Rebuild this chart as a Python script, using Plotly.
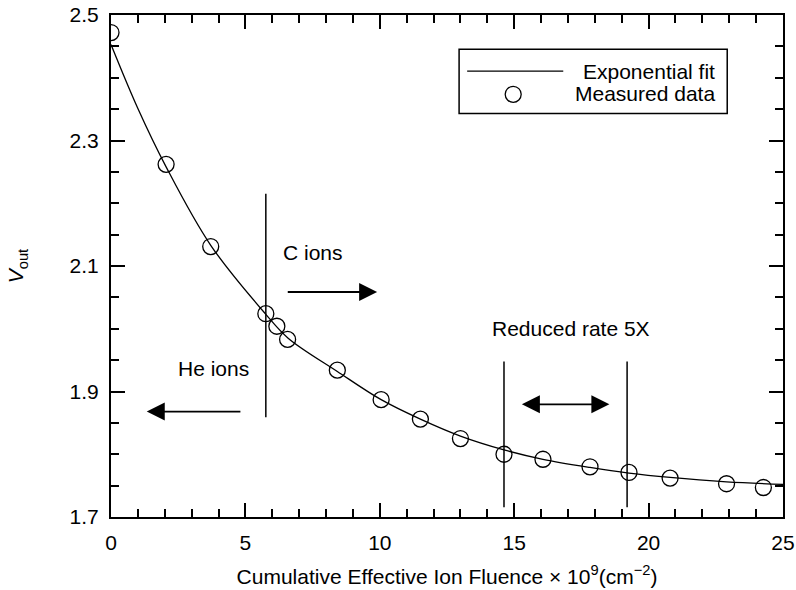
import plotly.graph_objects as go

# Measured output voltage vs cumulative effective ion fluence (x 1e9 cm^-2)
fluence = [0, 2.05, 3.71, 5.76, 6.17, 6.57, 8.42, 10.05, 11.51, 13.0,
           14.62, 16.07, 17.82, 19.27, 20.8, 22.9, 24.27]
vout = [2.472, 2.262, 2.131, 2.024, 2.004, 1.983, 1.934, 1.887, 1.856, 1.825,
        1.800, 1.792, 1.780, 1.771, 1.762, 1.753, 1.747]

# Exponential fit curve, sampled along the fluence axis
fit_x = [0, 1.0, 2.05, 3.71, 5.76, 6.59, 8.42, 10.05, 11.51, 13.0,
         14.62, 16.07, 17.82, 19.27, 20.8, 22.9, 25]
fit_y = [2.453, 2.351, 2.258, 2.133, 2.023, 1.985, 1.932, 1.887, 1.856, 1.829,
         1.807, 1.792, 1.779, 1.770, 1.763, 1.756, 1.752]

series_names = ["Exponential fit", "Measured data"]

# Irradiation phase boundaries
ion_switch_x = 5.76
ion_switch_span = [1.859, 2.215]
reduced_rate_x = [14.62, 19.2]
reduced_rate_span = [1.7156, 1.948]

# Phase labels and direction arrows
he_label = (3.8, 1.936)
he_arrow = {"tail": 4.87, "tip": 1.33, "y": 1.868}
c_label = (7.53, 2.122)
c_arrow = {"tail": 6.52, "tip": 9.9, "y": 2.0586}
rate_label = (17.12, 2.000)
rate_arrow = {"start": 15.23, "end": 18.54, "y": 1.8795}

FONT = "Liberation Sans, Arial, Helvetica, sans-serif"
FS = 21

fig = go.Figure()
fig.add_trace(go.Scatter(
    x=fit_x, y=fit_y, mode="lines", name=series_names[0], showlegend=False,
    line=dict(color="black", width=1.3, shape="spline", smoothing=1.0),
))
fig.add_trace(go.Scatter(
    x=fluence, y=vout, mode="markers", name=series_names[1], showlegend=False,
    marker=dict(symbol="circle-open", size=16, color="black",
                line=dict(color="black", width=1.3)),
))

# Vertical boundary lines
fig.add_shape(type="line", xref="x", yref="y",
              x0=ion_switch_x, x1=ion_switch_x,
              y0=ion_switch_span[0], y1=ion_switch_span[1],
              line=dict(color="black", width=1.5))
for xv in reduced_rate_x:
    fig.add_shape(type="line", xref="x", yref="y", x0=xv, x1=xv,
                  y0=reduced_rate_span[0], y1=reduced_rate_span[1],
                  line=dict(color="black", width=1.5))

text_font = dict(family=FONT, size=FS, color="black")
for label, (lx, ly) in [("He ions", he_label), ("C ions", c_label),
                        ("Reduced rate 5X", rate_label)]:
    fig.add_annotation(x=lx, y=ly, xref="x", yref="y", text=label,
                       showarrow=False, font=text_font)

arrow_style = dict(showarrow=True, arrowhead=2, arrowsize=2, arrowwidth=1.8,
                   arrowcolor="black", text="", standoff=0, startstandoff=0,
                   xref="x", yref="y", axref="x", ayref="y")
fig.add_annotation(x=he_arrow["tip"], y=he_arrow["y"],
                   ax=he_arrow["tail"], ay=he_arrow["y"], **arrow_style)
fig.add_annotation(x=c_arrow["tip"], y=c_arrow["y"],
                   ax=c_arrow["tail"], ay=c_arrow["y"], **arrow_style)
fig.add_annotation(x=rate_arrow["end"], y=rate_arrow["y"],
                   ax=rate_arrow["start"], ay=rate_arrow["y"],
                   arrowside="end+start", startarrowhead=2, startarrowsize=2,
                   **arrow_style)

# Boxed key in the upper right of the plot area
fig.add_shape(type="rect", xref="paper", yref="paper",
              x0=0.518, x1=0.917, y0=0.804, y1=0.932,
              line=dict(color="black", width=1.5), fillcolor="white",
              layer="above")
fig.add_shape(type="line", xref="paper", yref="paper",
              x0=0.530, x1=0.673, y0=0.888, y1=0.888,
              line=dict(color="black", width=1.3), layer="above")
fig.add_shape(type="circle", xref="paper", yref="paper",
              xsizemode="pixel", ysizemode="pixel",
              xanchor=0.5985, yanchor=0.842, x0=-8, x1=8, y0=-8, y1=8,
              line=dict(color="black", width=1.3), layer="above")
fig.add_annotation(x=0.9015, y=0.888, xref="paper", yref="paper",
                   xanchor="right", yanchor="middle", showarrow=False,
                   text=series_names[0], font=text_font)
fig.add_annotation(x=0.9015, y=0.843, xref="paper", yref="paper",
                   xanchor="right", yanchor="middle", showarrow=False,
                   text=series_names[1], font=text_font)

axis_common = dict(showline=True, linecolor="black", linewidth=2,
                   mirror="allticks", ticks="inside", tickcolor="black",
                   tickwidth=1.5, ticklen=14, showgrid=False, zeroline=False,
                   automargin=False,
                   tickfont=dict(family=FONT, size=FS, color="black"))

fig.update_xaxes(
    range=[0, 25], tick0=0, dtick=5,
    minor=dict(dtick=1, ticks="inside", ticklen=8, tickwidth=1.5,
               tickcolor="black", showgrid=False),
    title=dict(text="Cumulative Effective Ion Fluence \u00d7 10<sup>9</sup>(cm<sup>\u22122</sup>)",
               font=dict(family=FONT, size=FS, color="black"), standoff=16),
    ticklabelstandoff=6,
    **axis_common,
)
fig.update_yaxes(
    range=[1.7, 2.5], tick0=1.7, dtick=0.2, tickformat=".1f",
    minor=dict(dtick=0.05, ticks="inside", ticklen=8, tickwidth=1.5,
               tickcolor="black", showgrid=False),
    title=dict(text="<i>V</i><sub>out</sub>",
               font=dict(family=FONT, size=FS, color="black"), standoff=40),
    ticklabelstandoff=6,
    **axis_common,
)

fig.update_layout(
    width=796, height=590,
    margin=dict(l=111, r=13, t=15, b=73),
    paper_bgcolor="white", plot_bgcolor="white",
    font=dict(family=FONT, size=FS, color="black"),
    showlegend=False,
)

fig.write_html("out.html")
